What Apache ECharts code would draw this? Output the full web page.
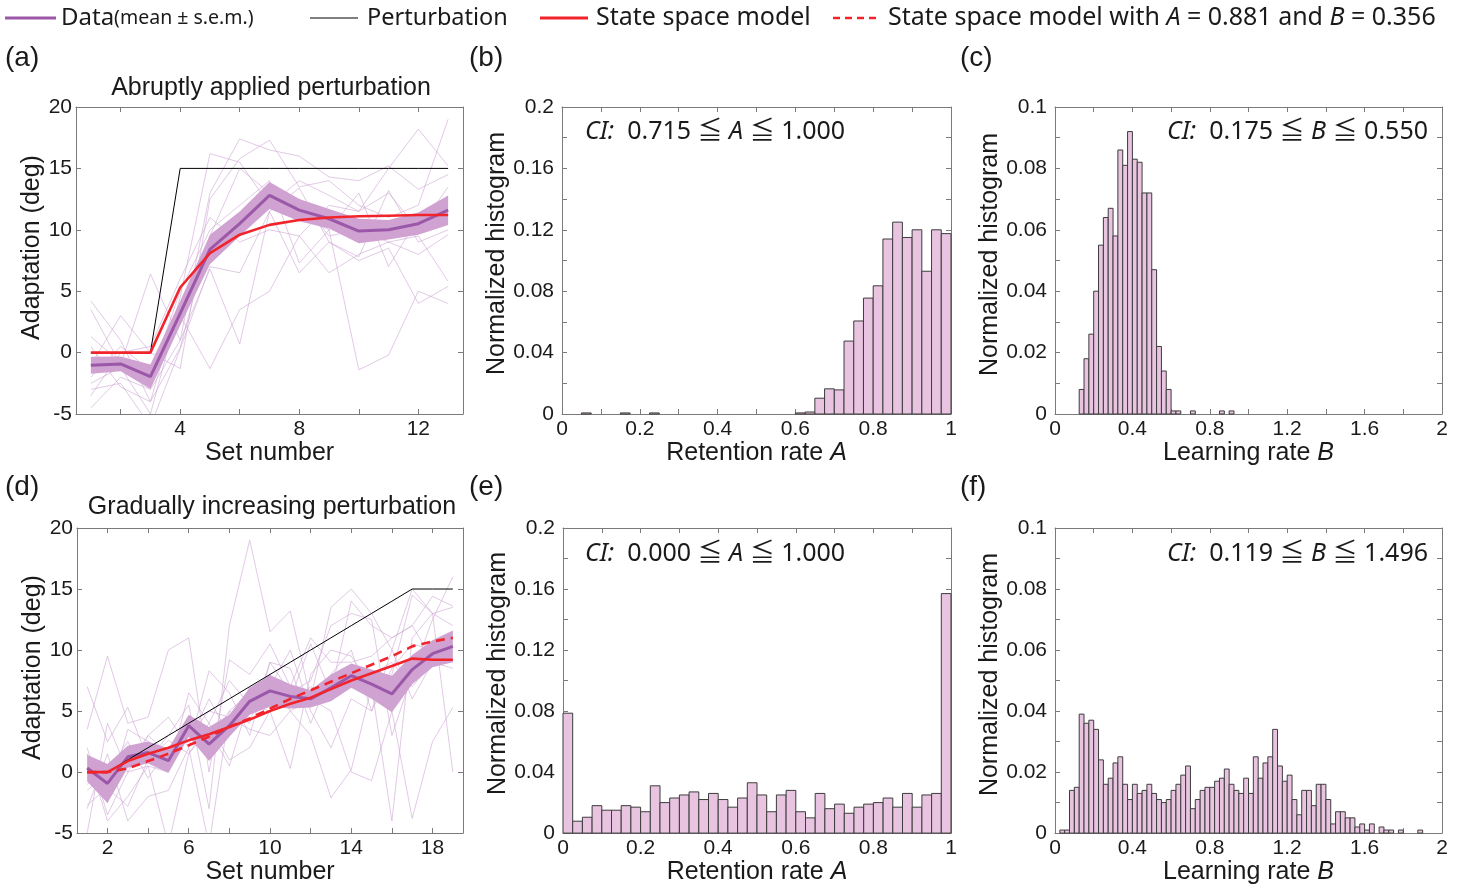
<!DOCTYPE html>
<html><head><meta charset="utf-8">
<script src="https://cdn.jsdelivr.net/npm/echarts@6.0.0/dist/echarts.min.js"></script>
<style>html,body{margin:0;padding:0;background:#fff}#c{width:1465px;height:886px}</style>
</head><body><div id="c"></div>
<script>
// ---------- Data: panel (a) abrupt ----------
const setsA = [1,2,3,4,5,6,7,8,9,10,11,12,13];
const meanA = [-1.03,-0.92,-1.96,3.2,8.4,10.5,12.8,11.6,10.9,9.9,10.0,10.5,11.6];
const semA  = [0.7,0.6,1.0,1.0,1.2,1.0,1.1,0.9,0.8,1.0,0.8,0.9,1.2];
const modelA = [0,0,0,5.3,8.1,9.6,10.4,10.8,11.0,11.1,11.15,11.2,11.2];
const pertA = [0,0,0,15,15,15,15,15,15,15,15,15,15];
const subjectsA = [
  [4.2,1.0,-4,4.5,16.2,15.5,12,14,12.8,11.5,15,18.2,15.2],
  [3.5,-1,6.4,1,13,17.4,16.5,16,14.3,14,15.2,13.3,14.5],
  [-1,3,0,-1.3,12.5,15.8,17.3,13.5,14,12,11,12,19],
  [-3,-2.5,-6,0.3,7,6.5,11.5,13.4,9,7.8,13.2,9,10],
  [-2,0.5,-1.5,3,-1.3,3.5,5,9.5,6.5,8,9,9.5,5.8],
  [-4.5,-2,-3,1,6.8,0.7,11.5,6.5,9,7.5,8.5,4,5.4],
  [1.3,-0.8,-2,5,10,12,14,7.3,10,13,7,11,12],
  [-2.5,-1.2,-5,4,8,10,13.6,11,10,-1.4,-0.2,5,4],
  [-3.5,0,0.5,6,11,9,10,9.5,12,11.5,13,10,13.5],
  [0.5,-2.8,-4,0.4,9.5,15,13,12.5,9.5,10,9,8,9.6]
];
// ---------- Data: panel (d) gradual ----------
const setsD = [1,2,3,4,5,6,7,8,9,10,11,12,13,14,15,16,17,18,19];
const meanD = [0.33,-0.93,1.25,1.6,0.93,3.8,2.3,3.8,5.8,6.65,6.2,6.0,6.9,7.9,7.2,6.4,8.4,9.7,10.3];
const semD  = [1.1,1.6,0.9,0.9,1.0,0.9,1.4,0.9,1.1,1.3,1.0,0.7,1.1,1.0,1.2,1.5,1.2,1.1,1.3];
const modelD = [0,0,0.9,1.5,2.0,2.6,3.1,3.7,4.3,5.0,5.6,6.1,6.8,7.5,8.1,8.7,9.3,9.2,9.2];
const modelD2 = [0,0,0.3,0.9,1.5,2.2,2.9,3.7,4.4,5.2,6.0,6.7,7.4,8.1,8.8,9.5,10.3,10.7,11.0];
const pertD = [0,0,1,2,3,4,5,6,7,8,9,10,11,12,13,14,15,15,15];
const subjectsD = [
  [7,2.5,5.3,1,3,5.5,-3,12,19,11.5,13.2,6,13.5,15,13,10,15,13,13.5],
  [3.5,9.5,4,4.5,10,11,0,9.2,8,10.5,7,11,9,9,9.5,11,12,14.4,13.6],
  [-3,1.5,-4,-2,-1.5,2,8.3,6.5,3,9,6.5,7.5,12,13,12.5,3,8,12.5,16],
  [-2.7,-1.3,-2.8,1,2.6,1.5,4,1,2,5,0.3,8,10,9.5,7,8,14.5,13,12],
  [-5,4,0,3,4.5,2,-6,5,6.5,7,10,5,2,6,5,10,6,9,8.5],
  [0,-2.5,3.5,2.5,1,3,5,4.5,3.5,3,5,6,5,0,-0.7,5,-3.8,2.5,5.3],
  [1.5,-4,-2,0.5,-6,1.5,3.5,0.5,6,8,5,3,-2.1,0.2,7,-4,11,13,0],
  [-1,0.5,0.5,3,1.5,4,2.5,5,4,9,8.5,4,8,10,5,8.5,10.5,10,9],
  [2,-3.5,0,0.5,0,6.5,4,7.5,5.5,5,6,10.5,6.5,14,12,11,12,9.2,10.5],
  [-1.5,0,2.5,-0.5,2,2.5,6,3,7,6,5.5,7,6,7.5,8,9,7,9,11.5]
];
// ---------- Histograms (bin width 0.025) ----------
const binW = 0.025;
const histA1 = [0,0,0.0007,0,0,0,0.0007,0,0,0.0007,0,0,0,0,0,0,0,0,0,0,0,0,0,0,0.0007,0.0013,0.0103,0.0164,0.0157,0.0475,0.0606,0.0755,0.0835,0.114,0.125,0.115,0.120,0.093,0.120,0.1175];
const histB1 = [0,0,0,0,0,0.008,0.018,0.026,0.040,0.055,0.064,0.067,0.058,0.086,0.081,0.092,0.083,0.082,0.072,0.072,0.047,0.022,0.014,0.008,0.001,0.001,0,0,0.001,0,0,0,0,0,0.001,0,0.001,0,0,0,0,0,0,0,0,0,0,0,0,0,0,0,0,0,0,0,0,0,0,0,0,0,0,0,0,0,0,0,0,0,0,0,0,0,0,0,0,0,0,0];
const histA2 = [0.0786,0.0078,0.0104,0.018,0.015,0.015,0.018,0.017,0.014,0.031,0.020,0.023,0.025,0.027,0.022,0.026,0.022,0.017,0.023,0.033,0.025,0.014,0.025,0.028,0.014,0.010,0.026,0.016,0.019,0.013,0.017,0.019,0.020,0.023,0.017,0.026,0.017,0.025,0.026,0.157];
const histB2 = [0,0.001,0.001,0.014,0.015,0.039,0.036,0.037,0.034,0.024,0.016,0.018,0.023,0.025,0.016,0.011,0.016,0.013,0.014,0.016,0.013,0.011,0.010,0.011,0.014,0.016,0.019,0.022,0.008,0.011,0.014,0.015,0.015,0.017,0.018,0.021,0.016,0.014,0.013,0.018,0.013,0.025,0.018,0.023,0.025,0.034,0.022,0.017,0.019,0.011,0.006,0.014,0.014,0.009,0.016,0.016,0.011,0.003,0.007,0.007,0.005,0.005,0.002,0.003,0.001,0.003,0,0.002,0.001,0.001,0,0.001,0,0,0,0.001,0,0,0,0];
// ---------- Tick labels ----------
const ticksA = [2,4,6,8,10,12];
const labelsA = [4,8,12];
const ticksD = [2,4,6,8,10,12,14,16,18];
const labelsD = [2,6,10,14,18];
const yLabelsLine = [-5,0,5,10,15,20];
const labelsRetX = [0,0.2,0.4,0.6,0.8,1];
const labelsLearnX = [0,0.4,0.8,1.2,1.6,2];
const labelsHistA = [0,0.04,0.08,0.12,0.16,0.2];
const labelsHistB = [0,0.02,0.04,0.06,0.08,0.1];
const ciTexts = [['0.715','A','1.000'],['0.175','B','0.550'],['0.000','A','1.000'],['0.119','B','1.496']];

// ---------- Styles ----------
const AX = 'Liberation Sans, Arial, sans-serif';
const NS = '"Noto Sans", "Noto Sans CJK JP", sans-serif';
const FRAME = '#7a7a7a';
const TXT = '#1a1a1a';
const PURPLE = '#9B58A8';
const BAND = '#CFA2D1';
const THIN = 'rgba(205,165,212,0.6)';
const RED = '#F2242B';
const HFILL = '#E8C4E1';
const HEDGE = '#3c3c3c';

const grids = [
  {left:76, top:107, width:387, height:307},
  {left:562, top:107, width:389, height:307},
  {left:1055, top:107, width:387, height:307},
  {left:77, top:528, width:386, height:306},
  {left:563, top:528, width:388, height:306},
  {left:1055, top:528, width:387, height:306}
];
const fmt = v => String(+(+v).toFixed(2));
const xAxes = [], yAxes = [];
function addAxes(gi, xc, yc) {
  const base = (pos, c) => ({
    gridIndex: gi, type: 'value', min: c.min, max: c.max, position: pos,
    interval: c.interval,
    axisLine: {show: true, onZero: false, lineStyle: {color: FRAME, width: 1}},
    axisTick: {show: true, inside: true, length: 5, customValues: c.ticks, lineStyle: {color: FRAME}},
    splitLine: {show: false},
    axisLabel: {show: false}
  });
  const xb = base('bottom', xc);
  xb.axisLabel = {show: true, customValues: xc.labels, formatter: fmt, margin: 5, fontFamily: AX, fontSize: 21, color: TXT};
  xb.name = xc.name; xb.nameLocation = 'middle'; xb.nameGap = xc.gap;
  xb.nameTextStyle = {fontFamily: AX, fontSize: 25, color: TXT, rich: {n:{fontFamily: AX, fontSize: 25, color: TXT}, i:{fontFamily: AX, fontSize: 25, color: TXT, fontStyle:'italic'}}};
  const xt = base('top', xc);
  const yl = base('left', yc);
  yl.axisLabel = {show: true, customValues: yc.labels, formatter: fmt, margin: yc.margin, fontFamily: AX, fontSize: 21, color: TXT};
  yl.name = yc.name; yl.nameLocation = 'middle'; yl.nameGap = yc.gap; yl.nameRotate = 90;
  yl.nameTextStyle = {fontFamily: AX, fontSize: 25, color: TXT, padding: [0, 0, 0, yc.shift]};
  const yr = base('right', yc);
  xAxes.push(xb, xt); yAxes.push(yl, yr);
}
const yLine = {min:-5, max:20, interval:5, ticks: yLabelsLine, labels: yLabelsLine, name:'Adaptation (deg)', gap:25, margin:4, shift:26};
const xRet = {min:0, max:1, ticks:[0,0.1,0.2,0.3,0.4,0.5,0.6,0.7,0.8,0.9,1], labels: labelsRetX, name:'{n|Retention rate }{i|A}', gap:21};
const xLearn = {min:0, max:2, ticks:[0,0.2,0.4,0.6,0.8,1,1.2,1.4,1.6,1.8,2], labels: labelsLearnX, name:'{n|Learning rate }{i|B}', gap:21};
const yHistA = {min:0, max:0.2, ticks:[0,0.02,0.04,0.06,0.08,0.1,0.12,0.14,0.16,0.18,0.2], labels: labelsHistA, name:'Normalized histogram', gap:47, margin:8, shift:14};
const yHistB = {min:0, max:0.1, ticks:[0,0.01,0.02,0.03,0.04,0.05,0.06,0.07,0.08,0.09,0.1], labels: labelsHistB, name:'Normalized histogram', gap:47, margin:8, shift:12};
addAxes(0, {min:0.5, max:13.5, ticks: ticksA, labels: labelsA, name:'Set number', gap:21}, yLine);
addAxes(1, xRet, yHistA);
addAxes(2, xLearn, yHistB);
addAxes(3, {min:0.5, max:19.5, ticks: ticksD, labels: labelsD, name:'Set number', gap:21}, yLine);
addAxes(4, xRet, yHistA);
addAxes(5, xLearn, yHistB);

const series = [];
function lineSeries(gi, xs, ys, style, z) {
  series.push({type:'line', xAxisIndex: 2*gi, yAxisIndex: 2*gi, data: xs.map((x,i)=>[x, ys[i]]),
    symbol:'none', showSymbol:false, lineStyle: style, silent:true, clip:true, z: z, animation:false});
}
function bandSeries(gi, xs, mean, sem) {
  series.push({type:'custom', xAxisIndex: 2*gi, yAxisIndex: 2*gi, z: 3,
    data: xs.map((x,i)=>[x, mean[i]]), encode:{x:0, y:1},
    renderItem: function(params, api) {
      if (params.dataIndex !== 0) return null;
      const pts = [];
      for (let i = 0; i < xs.length; i++) pts.push(api.coord([xs[i], mean[i] + sem[i]]));
      for (let i = xs.length - 1; i >= 0; i--) pts.push(api.coord([xs[i], mean[i] - sem[i]]));
      return {type:'polygon', shape:{points: pts}, style:{fill: BAND, stroke: 'none'}};
    }});
}
function histSeries(gi, hist) {
  series.push({type:'custom', xAxisIndex: 2*gi, yAxisIndex: 2*gi,
    data: hist.map((h,k)=>[k*binW, (k+1)*binW, h]), encode:{x:[0,1], y:2},
    renderItem: function(params, api) {
      const h = api.value(2);
      if (!h) return null;
      const p0 = api.coord([api.value(0), 0]);
      const p1 = api.coord([api.value(1), h]);
      return {type:'rect', shape:{x:p0[0], y:p1[1], width:p1[0]-p0[0], height:p0[1]-p1[1]},
        style:{fill: HFILL, stroke: HEDGE, lineWidth: 1}};
    }});
}
// panel (a)
subjectsA.forEach(s => lineSeries(0, setsA, s, {color: THIN, width: 1}, 2));
bandSeries(0, setsA, meanA, semA);
lineSeries(0, setsA, meanA, {color: PURPLE, width: 3}, 4);
lineSeries(0, setsA, pertA, {color: '#000', width: 1}, 4);
lineSeries(0, setsA, modelA, {color: RED, width: 2.6}, 5);
// panel (d)
subjectsD.forEach(s => lineSeries(3, setsD, s, {color: THIN, width: 1}, 2));
bandSeries(3, setsD, meanD, semD);
lineSeries(3, setsD, meanD, {color: PURPLE, width: 3}, 4);
lineSeries(3, setsD, pertD, {color: '#000', width: 1}, 4);
lineSeries(3, setsD, modelD, {color: RED, width: 2.6}, 5);
lineSeries(3, setsD, modelD2, {color: RED, width: 2.6, type: [9,6]}, 5);
// histograms
histSeries(1, histA1);
histSeries(2, histB1);
histSeries(4, histA2);
histSeries(5, histB2);

// ---------- Text elements ----------
const graphics = [];
function txt(x, y, text, opts) {
  graphics.push({type:'text', x:x, y:y, silent:true, style:Object.assign({text:text, fill:TXT, verticalAlign:'middle'}, opts)});
}
[['(a)',5,58],['(b)',469,58],['(c)',960,58],['(d)',5,487],['(e)',469,487],['(f)',960,487]].forEach(p =>
  txt(p[1], p[2], p[0], {font: '28px ' + AX}));
txt(271, 88, 'Abruptly applied perturbation', {font: '25px ' + AX, align:'center'});
txt(272, 507, 'Gradually increasing perturbation', {font: '25px ' + AX, align:'center'});
const ciRich = {i:{fontFamily: NS, fontSize: 25, fontStyle:'italic', fill: TXT}, n:{fontFamily: NS, fontSize: 25, fill: TXT}};
function ci(x, y, t, align) {
  txt(x, y, '{i|CI:}{n|  ' + t[0] + ' ≦ }{i|' + t[1] + '}{n| ≦ ' + t[2] + '}', {rich: ciRich, align: align});
}
ci(585, 132, ciTexts[0], 'left');
ci(1428, 132, ciTexts[1], 'right');
ci(585, 554, ciTexts[2], 'left');
ci(1428, 554, ciTexts[3], 'right');
// legend
graphics.push({type:'line', silent:true, shape:{x1:5,y1:18,x2:56,y2:18}, style:{stroke: PURPLE, lineWidth: 3}});
txt(61, 18, '{a|Data}{b|(mean ± s.e.m.)}', {rich:{a:{fontFamily: NS, fontSize: 24, fill: TXT}, b:{fontFamily: NS, fontSize: 19.5, fill: TXT}}});
graphics.push({type:'line', silent:true, shape:{x1:310,y1:18,x2:358,y2:18}, style:{stroke: '#000', lineWidth: 1}});
txt(367, 18, 'Perturbation', {font: '23.5px ' + NS});
graphics.push({type:'line', silent:true, shape:{x1:540,y1:18,x2:588,y2:18}, style:{stroke: RED, lineWidth: 3}});
txt(596, 18, 'State space model', {font: '25px ' + NS});
graphics.push({type:'line', silent:true, shape:{x1:833,y1:18,x2:881,y2:18}, style:{stroke: RED, lineWidth: 2.5, lineDash:[7,5]}});
txt(888, 18, '{n|State space model with }{i|A}{n| = 0.881 and }{i|B}{n| = 0.356}',
  {rich:{n:{fontFamily: NS, fontSize: 25, fill: TXT}, i:{fontFamily: NS, fontSize: 25, fontStyle:'italic', fill: TXT}}});

const chart = echarts.init(document.getElementById('c'), null, {renderer:'canvas'});
chart.setOption({
  animation: false,
  backgroundColor: '#fff',
  grid: grids,
  xAxis: xAxes,
  yAxis: yAxes,
  series: series,
  graphic: graphics
});
</script></body></html>
